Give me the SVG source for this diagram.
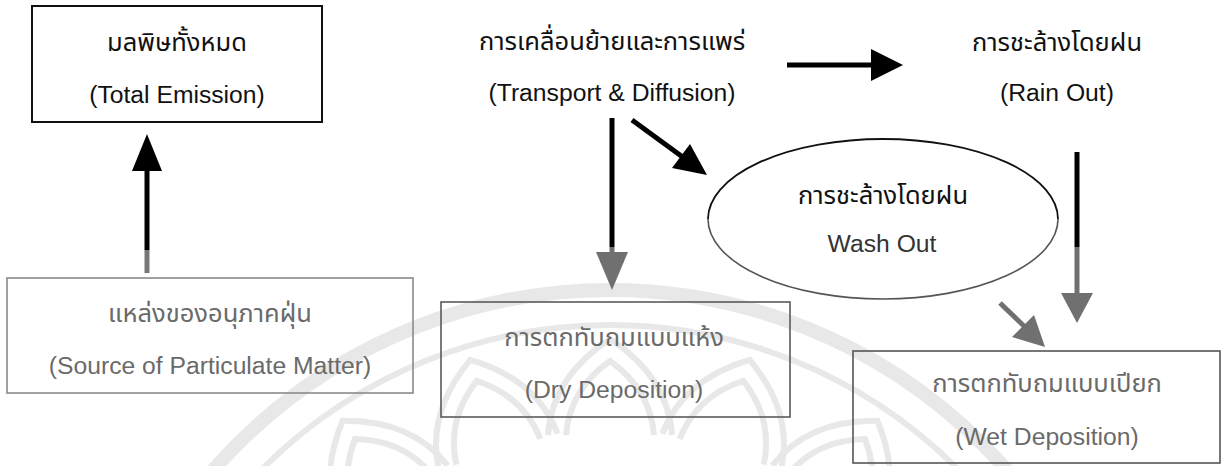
<svg xmlns="http://www.w3.org/2000/svg" xmlns:xlink="http://www.w3.org/1999/xlink" width="1225" height="466" viewBox="0 0 1225 466">
  <style>
    text { font-family: "Liberation Sans", "Noto Sans Thai", "Noto Sans", "DejaVu Sans", sans-serif; font-size: 24.7px; text-anchor: middle; }
    text.th { font-size: 25.5px; }
    .dark { fill: #111; }
    .grey { fill: #6a6a6a; }
    .wm { fill: none; stroke: #e8e8e8; }
    .box { fill: none; }
  </style>
  <defs>
    <path id="petal" d="M -62 -382 Q -58 -440 0 -478 Q 58 -440 62 -382 M -44 -382 Q -40 -428 0 -456 Q 40 -428 44 -382"/>
  </defs>

  <rect width="1225" height="466" fill="#fff"/>

  <!-- faint emblem in the background -->
  <g id="emblem" class="wm">
    <circle cx="610" cy="817" r="527" stroke-width="14"/>
    <circle cx="610" cy="817" r="492" stroke-width="6"/>
    <g stroke-width="6">
      <use xlink:href="#petal" transform="translate(610 817) rotate(-51)"/>
      <use xlink:href="#petal" transform="translate(610 817) rotate(-34)"/>
      <use xlink:href="#petal" transform="translate(610 817) rotate(-17)"/>
      <use xlink:href="#petal" transform="translate(610 817)"/>
      <use xlink:href="#petal" transform="translate(610 817) rotate(17)"/>
      <use xlink:href="#petal" transform="translate(610 817) rotate(34)"/>
      <use xlink:href="#petal" transform="translate(610 817) rotate(51)"/>
    </g>
  </g>

  <!-- connectors -->
  <g id="connectors">
    <!-- source -> total emission -->
    <line x1="147" y1="168" x2="147" y2="250" stroke="#000" stroke-width="5"/>
    <line x1="147" y1="250" x2="147" y2="273" stroke="#777" stroke-width="5"/>
    <polygon points="147,134 132,171 162,171" fill="#000"/>
    <!-- transport -> rain out -->
    <line x1="787" y1="65" x2="874" y2="65" stroke="#000" stroke-width="5"/>
    <polygon points="903,65 871,49 871,81" fill="#000"/>
    <!-- transport -> dry deposition -->
    <line x1="612" y1="118" x2="612" y2="247" stroke="#000" stroke-width="5"/>
    <line x1="612" y1="247" x2="612" y2="256" stroke="#707070" stroke-width="5"/>
    <polygon points="612,290 596,252 628,252" fill="#707070"/>
    <!-- transport -> wash out -->
    <line x1="632" y1="120" x2="684" y2="158" stroke="#000" stroke-width="5"/>
    <polygon points="707,175 672,168 690,144" fill="#000"/>
    <!-- rain out -> wet deposition -->
    <line x1="1077" y1="152" x2="1077" y2="247" stroke="#000" stroke-width="5"/>
    <line x1="1077" y1="247" x2="1077" y2="298" stroke="#707070" stroke-width="5"/>
    <polygon points="1077,323 1061,293 1093,293" fill="#707070"/>
    <!-- wash out -> wet deposition -->
    <line x1="1000" y1="303" x2="1026" y2="328" stroke="#707070" stroke-width="5"/>
    <polygon points="1045,347 1012,337 1034,315" fill="#707070"/>
  </g>

  <g id="total-emission">
    <rect class="box" x="32" y="6" width="290" height="116" stroke="#111" stroke-width="2"/>
    <text class="th dark" x="177" y="51">มลพิษทั้งหมด</text>
    <text class="dark" x="177" y="103">(Total Emission)</text>
  </g>

  <g id="transport-diffusion">
    <text class="th dark" x="612" y="50">การเคลื่อนย้ายและการแพร่</text>
    <text class="dark" x="612" y="101">(Transport &amp; Diffusion)</text>
  </g>

  <g id="rain-out">
    <text class="th dark" x="1057" y="51">การชะล้างโดยฝน</text>
    <text class="dark" x="1057" y="101">(Rain Out)</text>
  </g>

  <g id="wash-out">
    <path d="M 708 219 A 175 80 0 0 1 1058 219" fill="none" stroke="#111" stroke-width="1.8"/>
    <path d="M 1058 219 A 175 80 0 0 1 708 219" fill="none" stroke="#555" stroke-width="1.6"/>
    <text class="th dark" x="883" y="204">การชะล้างโดยฝน</text>
    <text fill="#333" x="882" y="252">Wash Out</text>
  </g>

  <g id="source">
    <rect class="box" x="7" y="278" width="406" height="115" stroke="#8a8a8a" stroke-width="1.6"/>
    <text class="th grey" x="210" y="322">แหล่งของอนุภาคฝุ่น</text>
    <text class="grey" x="210" y="374">(Source of Particulate Matter)</text>
  </g>

  <g id="dry-deposition">
    <rect class="box" x="441" y="302" width="349" height="115" stroke="#5a5a5a" stroke-width="1.6"/>
    <text class="th grey" x="614" y="346">การตกทับถมแบบแห้ง</text>
    <text class="grey" x="614" y="398">(Dry Deposition)</text>
  </g>

  <g id="wet-deposition">
    <rect class="box" x="853" y="351" width="367" height="112" stroke="#555" stroke-width="1.6"/>
    <text class="th grey" x="1047" y="392">การตกทับถมแบบเปียก</text>
    <text class="grey" x="1047" y="445">(Wet Deposition)</text>
  </g>
</svg>
